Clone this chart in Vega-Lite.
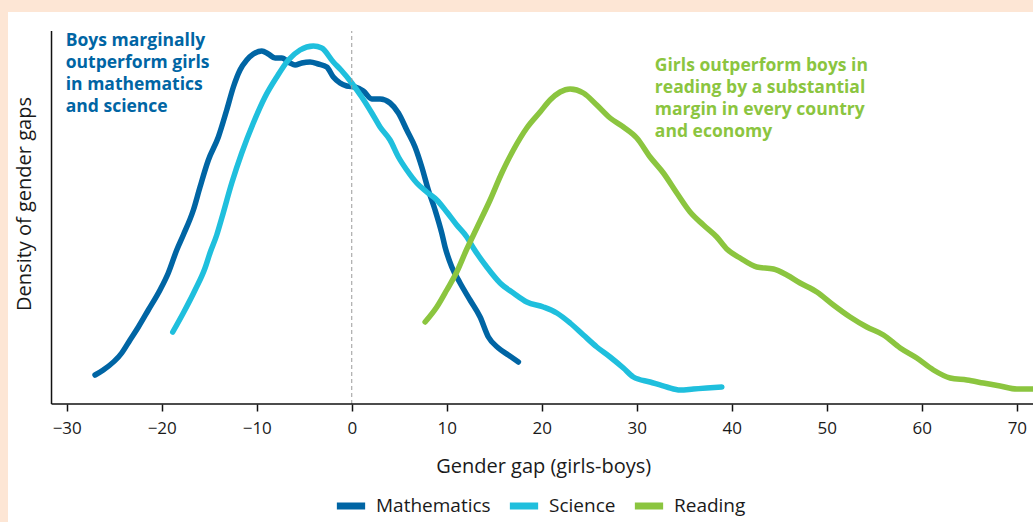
{
  "$schema": "https://vega.github.io/schema/vega-lite/v6.json",
  "autosize": {"type": "none"},
  "padding": {"left": 8, "top": 12, "right": 0, "bottom": 0},
  "width": 1025,
  "height": 510,
  "background": "#FDE6D5",
  "config": {
    "view": {"fill": "white", "stroke": null},
    "font": "Open Sans"
  },
  "data": {"name": "curves"},
  "datasets": {
    "curves": [
      {"subject": "Mathematics", "gap": -27.02, "density": 0.0029},
      {"subject": "Mathematics", "gap": -26.15, "density": 0.0034},
      {"subject": "Mathematics", "gap": -24.21, "density": 0.0051},
      {"subject": "Mathematics", "gap": -23.34, "density": 0.0064},
      {"subject": "Mathematics", "gap": -22.46, "density": 0.0077},
      {"subject": "Mathematics", "gap": -21.41, "density": 0.0094},
      {"subject": "Mathematics", "gap": -20.18, "density": 0.0114},
      {"subject": "Mathematics", "gap": -19.31, "density": 0.0131},
      {"subject": "Mathematics", "gap": -18.42, "density": 0.0154},
      {"subject": "Mathematics", "gap": -17.73, "density": 0.0169},
      {"subject": "Mathematics", "gap": -16.67, "density": 0.0194},
      {"subject": "Mathematics", "gap": -15.97, "density": 0.0217},
      {"subject": "Mathematics", "gap": -15.09, "density": 0.0244},
      {"subject": "Mathematics", "gap": -14.04, "density": 0.0267},
      {"subject": "Mathematics", "gap": -13.16, "density": 0.0294},
      {"subject": "Mathematics", "gap": -12.46, "density": 0.0317},
      {"subject": "Mathematics", "gap": -11.76, "density": 0.0334},
      {"subject": "Mathematics", "gap": -11.05, "density": 0.0344},
      {"subject": "Mathematics", "gap": -10.36, "density": 0.0350},
      {"subject": "Mathematics", "gap": -9.47, "density": 0.0353},
      {"subject": "Mathematics", "gap": -8.78, "density": 0.0350},
      {"subject": "Mathematics", "gap": -8.07, "density": 0.0346},
      {"subject": "Mathematics", "gap": -7.37, "density": 0.0346},
      {"subject": "Mathematics", "gap": -6.49, "density": 0.0341},
      {"subject": "Mathematics", "gap": -5.97, "density": 0.0339},
      {"subject": "Mathematics", "gap": -5.26, "density": 0.0341},
      {"subject": "Mathematics", "gap": -4.39, "density": 0.0342},
      {"subject": "Mathematics", "gap": -3.52, "density": 0.0340},
      {"subject": "Mathematics", "gap": -2.63, "density": 0.0337},
      {"subject": "Mathematics", "gap": -1.94, "density": 0.0327},
      {"subject": "Mathematics", "gap": -1.23, "density": 0.0321},
      {"subject": "Mathematics", "gap": -0.53, "density": 0.0318},
      {"subject": "Mathematics", "gap": 0.35, "density": 0.0317},
      {"subject": "Mathematics", "gap": 1.22, "density": 0.0313},
      {"subject": "Mathematics", "gap": 2.11, "density": 0.0305},
      {"subject": "Mathematics", "gap": 2.98, "density": 0.0305},
      {"subject": "Mathematics", "gap": 4.03, "density": 0.0301},
      {"subject": "Mathematics", "gap": 4.91, "density": 0.0291},
      {"subject": "Mathematics", "gap": 5.79, "density": 0.0274},
      {"subject": "Mathematics", "gap": 6.66, "density": 0.0257},
      {"subject": "Mathematics", "gap": 7.37, "density": 0.0237},
      {"subject": "Mathematics", "gap": 8.06, "density": 0.0214},
      {"subject": "Mathematics", "gap": 8.77, "density": 0.0194},
      {"subject": "Mathematics", "gap": 9.47, "density": 0.0171},
      {"subject": "Mathematics", "gap": 9.82, "density": 0.0157},
      {"subject": "Mathematics", "gap": 10.53, "density": 0.0137},
      {"subject": "Mathematics", "gap": 11.40, "density": 0.0121},
      {"subject": "Mathematics", "gap": 12.45, "density": 0.0104},
      {"subject": "Mathematics", "gap": 13.51, "density": 0.0087},
      {"subject": "Mathematics", "gap": 14.38, "density": 0.0067},
      {"subject": "Mathematics", "gap": 15.43, "density": 0.0056},
      {"subject": "Mathematics", "gap": 16.48, "density": 0.0049},
      {"subject": "Mathematics", "gap": 17.54, "density": 0.0042},
      {"subject": "Science", "gap": -18.84, "density": 0.0072},
      {"subject": "Science", "gap": -17.73, "density": 0.0091},
      {"subject": "Science", "gap": -16.49, "density": 0.0114},
      {"subject": "Science", "gap": -15.44, "density": 0.0136},
      {"subject": "Science", "gap": -14.92, "density": 0.0151},
      {"subject": "Science", "gap": -14.21, "density": 0.0169},
      {"subject": "Science", "gap": -13.68, "density": 0.0186},
      {"subject": "Science", "gap": -12.63, "density": 0.0221},
      {"subject": "Science", "gap": -11.58, "density": 0.0251},
      {"subject": "Science", "gap": -10.36, "density": 0.0281},
      {"subject": "Science", "gap": -9.13, "density": 0.0307},
      {"subject": "Science", "gap": -7.89, "density": 0.0327},
      {"subject": "Science", "gap": -6.67, "density": 0.0344},
      {"subject": "Science", "gap": -5.44, "density": 0.0354},
      {"subject": "Science", "gap": -4.04, "density": 0.0358},
      {"subject": "Science", "gap": -3.16, "density": 0.0356},
      {"subject": "Science", "gap": -1.94, "density": 0.0342},
      {"subject": "Science", "gap": -1.13, "density": 0.0334},
      {"subject": "Science", "gap": 0.0, "density": 0.0321},
      {"subject": "Science", "gap": 1.05, "density": 0.0307},
      {"subject": "Science", "gap": 2.11, "density": 0.0291},
      {"subject": "Science", "gap": 2.98, "density": 0.0277},
      {"subject": "Science", "gap": 4.03, "density": 0.0264},
      {"subject": "Science", "gap": 4.91, "density": 0.0247},
      {"subject": "Science", "gap": 5.79, "density": 0.0234},
      {"subject": "Science", "gap": 6.84, "density": 0.0221},
      {"subject": "Science", "gap": 7.89, "density": 0.0212},
      {"subject": "Science", "gap": 8.95, "density": 0.0204},
      {"subject": "Science", "gap": 10.0, "density": 0.0192},
      {"subject": "Science", "gap": 11.05, "density": 0.0179},
      {"subject": "Science", "gap": 12.11, "density": 0.0167},
      {"subject": "Science", "gap": 12.8, "density": 0.0156},
      {"subject": "Science", "gap": 14.21, "density": 0.0137},
      {"subject": "Science", "gap": 15.61, "density": 0.0121},
      {"subject": "Science", "gap": 17.01, "density": 0.0111},
      {"subject": "Science", "gap": 18.42, "density": 0.0102},
      {"subject": "Science", "gap": 20.17, "density": 0.0097},
      {"subject": "Science", "gap": 21.58, "density": 0.0091},
      {"subject": "Science", "gap": 22.98, "density": 0.0081},
      {"subject": "Science", "gap": 24.38, "density": 0.0069},
      {"subject": "Science", "gap": 25.79, "density": 0.0057},
      {"subject": "Science", "gap": 27.19, "density": 0.0047},
      {"subject": "Science", "gap": 28.59, "density": 0.0036},
      {"subject": "Science", "gap": 29.64, "density": 0.0027},
      {"subject": "Science", "gap": 31.4, "density": 0.0022},
      {"subject": "Science", "gap": 33.16, "density": 0.0017},
      {"subject": "Science", "gap": 34.56, "density": 0.0014},
      {"subject": "Science", "gap": 35.96, "density": 0.0015},
      {"subject": "Science", "gap": 37.37, "density": 0.0016},
      {"subject": "Science", "gap": 38.95, "density": 0.0017},
      {"subject": "Reading", "gap": 7.72, "density": 0.0082},
      {"subject": "Reading", "gap": 8.95, "density": 0.0097},
      {"subject": "Reading", "gap": 10.0, "density": 0.0114},
      {"subject": "Reading", "gap": 11.05, "density": 0.0132},
      {"subject": "Reading", "gap": 12.11, "density": 0.0155},
      {"subject": "Reading", "gap": 13.16, "density": 0.0176},
      {"subject": "Reading", "gap": 14.56, "density": 0.0204},
      {"subject": "Reading", "gap": 15.79, "density": 0.0231},
      {"subject": "Reading", "gap": 17.01, "density": 0.0254},
      {"subject": "Reading", "gap": 18.42, "density": 0.0276},
      {"subject": "Reading", "gap": 19.82, "density": 0.0292},
      {"subject": "Reading", "gap": 20.87, "density": 0.0304},
      {"subject": "Reading", "gap": 21.93, "density": 0.0312},
      {"subject": "Reading", "gap": 22.98, "density": 0.0315},
      {"subject": "Reading", "gap": 24.38, "density": 0.0311},
      {"subject": "Reading", "gap": 25.79, "density": 0.0299},
      {"subject": "Reading", "gap": 27.19, "density": 0.0286},
      {"subject": "Reading", "gap": 28.59, "density": 0.0277},
      {"subject": "Reading", "gap": 30.0, "density": 0.0266},
      {"subject": "Reading", "gap": 31.4, "density": 0.0247},
      {"subject": "Reading", "gap": 32.8, "density": 0.0231},
      {"subject": "Reading", "gap": 34.21, "density": 0.0211},
      {"subject": "Reading", "gap": 35.61, "density": 0.0192},
      {"subject": "Reading", "gap": 37.01, "density": 0.0179},
      {"subject": "Reading", "gap": 38.42, "density": 0.0167},
      {"subject": "Reading", "gap": 39.47, "density": 0.0155},
      {"subject": "Reading", "gap": 40.87, "density": 0.0146},
      {"subject": "Reading", "gap": 42.63, "density": 0.0137},
      {"subject": "Reading", "gap": 44.38, "density": 0.0135},
      {"subject": "Reading", "gap": 45.79, "density": 0.0129},
      {"subject": "Reading", "gap": 47.19, "density": 0.0121},
      {"subject": "Reading", "gap": 48.95, "density": 0.0112},
      {"subject": "Reading", "gap": 50.69, "density": 0.0099},
      {"subject": "Reading", "gap": 52.45, "density": 0.0087},
      {"subject": "Reading", "gap": 54.21, "density": 0.0077},
      {"subject": "Reading", "gap": 55.96, "density": 0.0069},
      {"subject": "Reading", "gap": 57.72, "density": 0.0056},
      {"subject": "Reading", "gap": 59.47, "density": 0.0046},
      {"subject": "Reading", "gap": 61.22, "density": 0.0034},
      {"subject": "Reading", "gap": 62.98, "density": 0.0026},
      {"subject": "Reading", "gap": 64.74, "density": 0.0024},
      {"subject": "Reading", "gap": 66.48, "density": 0.0021},
      {"subject": "Reading", "gap": 68.24, "density": 0.0018},
      {"subject": "Reading", "gap": 70.0, "density": 0.0015},
      {"subject": "Reading", "gap": 71.9, "density": 0.0015}
    ],
    "notes": [
      {"gap": -30.1, "density": 0.0372, "label": ["Boys marginally", "outperform girls", "in mathematics", "and science"], "subject": "Mathematics"},
      {"gap": 31.9, "density": 0.0347, "label": ["Girls outperform boys in", "reading by a substantial", "margin in every country", "and economy"], "subject": "Reading"}
    ],
    "frame": [
      {"from": -31.6, "to": 75, "zero": 0, "top": 0.0373}
    ],
    "equal": [
      {"gap": 0, "zero": 0, "top": 0.0373}
    ],
    "titles": [
      {"gap": 20.2, "density": -0.0063, "label": "Gender gap (girls-boys)", "angle": 0},
      {"gap": -34.4, "density": 0.0200, "label": "Density of gender gaps", "angle": 270}
    ]
  },
  "layer": [
    {
      "mark": {"type": "line", "strokeWidth": 5.5, "strokeCap": "round", "strokeJoin": "round", "interpolate": "monotone", "clip": true},
      "encoding": {
        "x": {
          "field": "gap", "type": "quantitative",
          "scale": {"domain": [-36.18, 71.7], "nice": false, "zero": false},
          "axis": {
            "values": [-30, -20, -10, 0, 10, 20, 30, 40, 50, 60, 70],
            "offset": -118,
            "domain": false,
            "grid": false,
            "title": null,
            "tickColor": "#111111",
            "tickWidth": 1.5,
            "tickSize": 7,
            "labelFontSize": 17,
            "labelColor": "#1a1a1a",
            "labelPadding": 9
          }
        },
        "y": {
          "field": "density", "type": "quantitative",
          "scale": {"domain": [-0.0118, 0.0392], "nice": false, "zero": false},
          "axis": null
        },
        "color": {
          "field": "subject", "type": "nominal",
          "scale": {"domain": ["Mathematics", "Science", "Reading"], "range": ["#0065A4", "#1FBFDD", "#8BC53F"]},
          "legend": {
            "orient": "none",
            "legendX": 325,
            "legendY": 476,
            "direction": "horizontal",
            "title": null,
            "symbolType": "stroke",
            "symbolStrokeWidth": 7,
            "symbolSize": 800,
            "labelFontSize": 19,
            "labelColor": "#1a1a1a",
            "labelOffset": 7,
            "columnPadding": 4
          }
        }
      }
    },
    {
      "data": {"name": "equal"},
      "mark": {"type": "rule", "color": "#9a9a9a", "strokeWidth": 1, "strokeDash": [4, 3]},
      "encoding": {
        "x": {"field": "gap", "type": "quantitative"},
        "y": {"field": "zero", "type": "quantitative"},
        "y2": {"field": "top"}
      }
    },
    {
      "data": {"name": "frame"},
      "mark": {"type": "rule", "color": "#111111", "strokeWidth": 1.5},
      "encoding": {
        "x": {"field": "from", "type": "quantitative"},
        "x2": {"field": "to"},
        "y": {"field": "zero", "type": "quantitative"}
      }
    },
    {
      "data": {"name": "frame"},
      "mark": {"type": "rule", "color": "#111111", "strokeWidth": 1.5},
      "encoding": {
        "x": {"field": "from", "type": "quantitative"},
        "y": {"field": "zero", "type": "quantitative"},
        "y2": {"field": "top"}
      }
    },
    {
      "data": {"name": "notes"},
      "mark": {"type": "text", "align": "left", "baseline": "top", "fontWeight": "bold", "fontSize": 17.5, "lineHeight": 22},
      "encoding": {
        "x": {"field": "gap", "type": "quantitative"},
        "y": {"field": "density", "type": "quantitative"},
        "text": {"field": "label"},
        "color": {"field": "subject", "type": "nominal"}
      }
    },
    {
      "data": {"name": "titles"},
      "mark": {"type": "text", "align": "center", "baseline": "middle", "fontSize": 20, "color": "#1a1a1a"},
      "encoding": {
        "x": {"field": "gap", "type": "quantitative"},
        "y": {"field": "density", "type": "quantitative"},
        "text": {"field": "label"},
        "angle": {"field": "angle", "type": "quantitative", "scale": null}
      }
    }
  ]
}
